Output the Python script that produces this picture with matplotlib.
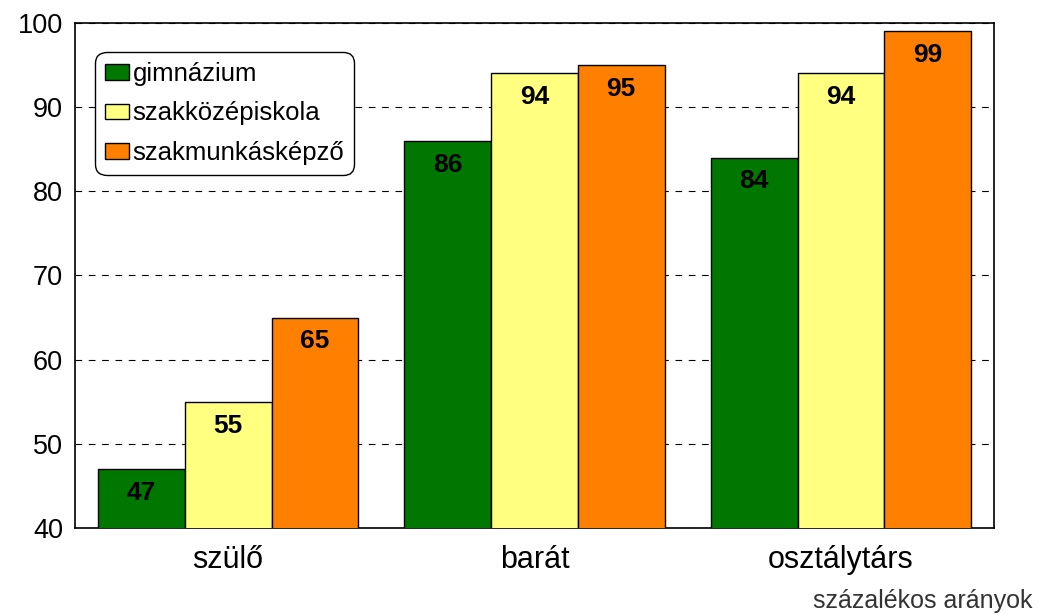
import numpy as np
import matplotlib.pyplot as plt

plt.rcParams['font.family'] = ['Liberation Sans', 'DejaVu Sans']

categories = ['szülő', 'barát', 'osztálytárs']
series = ['gimnázium', 'szakközépiskola', 'szakmunkásképző']
gimnazium = [47, 86, 84]
szakkozep = [55, 94, 94]
szakmunkas = [65, 95, 99]
colors = ['#007800', '#FFFF80', '#FF8000']

fig = plt.figure(figsize=(10.4, 6.15), dpi=100)
ax = fig.add_axes([0.0721, 0.1415, 0.8837, 0.8211])

x = np.arange(len(categories))
w = 0.283
for i, (vals, name, col) in enumerate(zip([gimnazium, szakkozep, szakmunkas], series, colors)):
    pos = x + (i - 1) * w
    ax.bar(pos, vals, width=w, bottom=0, color=col, edgecolor='black',
           linewidth=1, label=name, zorder=3)
    for p, v in zip(pos, vals):
        ax.text(p, v - 1.4, str(v), ha='center', va='top', fontsize=19,
                fontweight='bold', zorder=4)

ax.set_xlim(-0.5, 2.5)
ax.set_ylim(40, 100)
ax.set_yticks([40, 50, 60, 70, 80, 90, 100])
ax.set_xticks(x)
ax.set_xticklabels(categories, fontsize=22)
ax.tick_params(axis='y', length=0, labelsize=19.5, pad=8.5)
ax.tick_params(axis='x', length=0, pad=12)
ax.yaxis.grid(True, linestyle=(0, (6, 6)), color='black', linewidth=0.8, zorder=0)
for s in ax.spines.values():
    s.set_linewidth(1.2)

leg = ax.legend(loc='upper left', bbox_to_anchor=(0.022, 0.943), fontsize=18.5,
                frameon=True, fancybox=True, edgecolor='black', framealpha=1,
                handlelength=0.9, handleheight=0.55, handletextpad=0.15,
                labelspacing=0.6, borderpad=0.4, borderaxespad=0)
leg.get_frame().set_linewidth(1.0)
leg.get_frame().set_boxstyle('round,pad=0,rounding_size=0.45')
leg.set_zorder(5)

fig.text(0.993, 0.004, 'százalékos arányok', ha='right', va='bottom',
         fontsize=18, color='#333333')

fig.savefig('out.png', dpi=100)
